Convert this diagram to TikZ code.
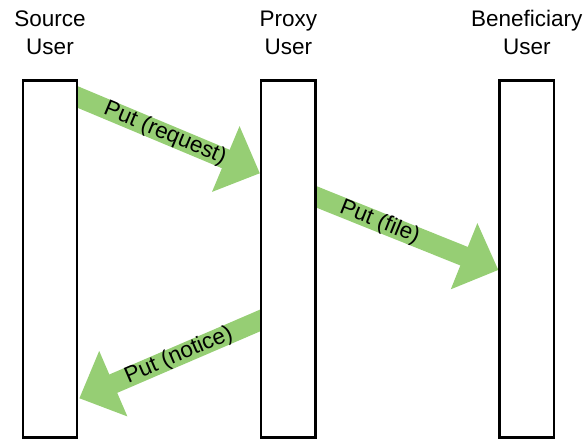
\documentclass[tikz,border=0pt]{standalone}
\usepackage{fontspec}
\setmainfont{Liberation Sans}
\usetikzlibrary{arrows.meta,positioning,backgrounds}
\definecolor{putgreen}{RGB}{150,206,116}
\tikzset{
    %Define style for the user bars
    userbar/.style={
           rectangle,
           draw=black, line width=2.4pt,
           fill=white,
           minimum width=54.4pt,
           minimum height=356.8pt},
    %Define style for the user names
    username/.style={
           inner sep=0pt,
           align=center,
           font=\fontsize{22.5}{28.3}\selectfont},
    % Define arrow style
    put/.style={
           -{Triangle[length=37pt,width=69pt]},
           draw=putgreen, line width=20pt},
    putlabel/.style={
           sloped,
           inner sep=0pt,
           font=\fontsize{22.5}{27}\selectfont}
}

\begin{document}
\begin{tikzpicture}[x=1pt,y=1pt]
\useasboundingbox (0,0) rectangle (588,-441);
\node[userbar](src) at (50,-258.9){};
\node[userbar](proxy) at (288.3,-258.9){};
\node[userbar](benef) at (526.8,-258.9){};
\node[username, above=24pt of src](srcname){Source\\User};
\node[username, above=24pt of proxy](proxyname){Proxy\\User};
\node[username, above=24pt of benef](benefname){Beneficiary\\User};
\begin{scope}[on background layer]
 \draw[put] ([shift={(-8.4pt,-14.5pt)}]src.north east)
    -- node[putlabel, pos=.5]{Put (request)} ([yshift=-94pt]proxy.north west);
 \draw[put] ([shift={(-6.7pt,-115pt)}]proxy.north east)
    -- node[putlabel, pos=.37]{Put (file)} ([yshift=-190.7pt]benef.north west);
 \draw[put] ([shift={(7.1pt,-238.2pt)}]proxy.north west)
    -- node[putlabel, pos=.47]{Put (notice)} ([shift={(0.9pt,-319pt)}]src.north east);
\end{scope}
\end{tikzpicture}
\end{document}
